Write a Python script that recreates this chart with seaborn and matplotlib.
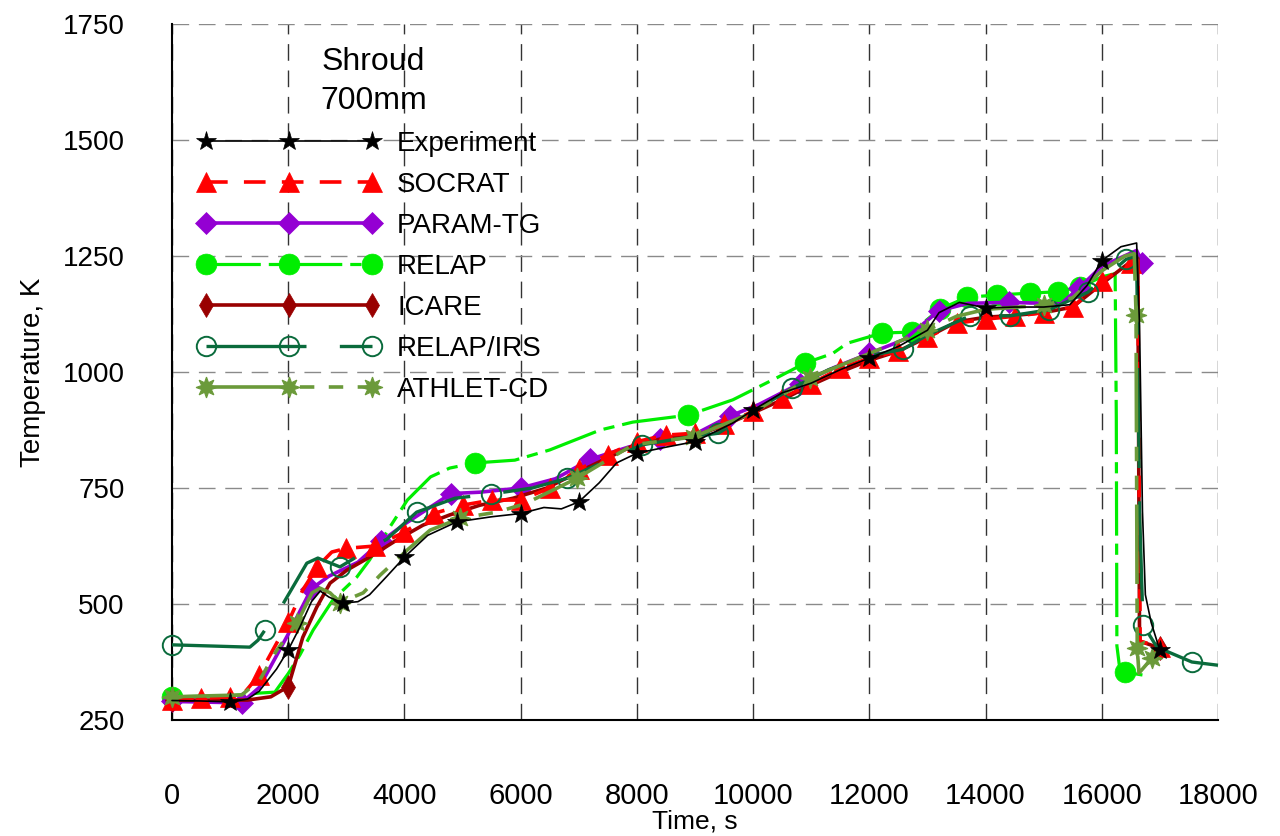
import numpy as np
import pandas as pd
import matplotlib
matplotlib.use("Agg")
import matplotlib.pyplot as plt
import seaborn as sns
from matplotlib.lines import Line2D
from matplotlib.ticker import MultipleLocator

# ---------------- data ----------------
exp_t = [0, 500, 1000, 1300, 1500, 1800, 2000, 2200, 2400, 2550, 2700, 2940, 3200, 3400, 3700,
         4000, 4400, 4900, 5500, 6000, 6400, 6700, 7000, 7350, 7650, 8000, 8500, 9000, 9650,
         10000, 10500, 11000, 11500, 12000, 12500, 13000, 13200, 13550, 14000, 14500, 15000,
         15450, 15750, 16000, 16330, 16600, 16650, 16700, 16750, 16850, 17000]
exp_T = [292, 291, 289, 295, 312, 360, 401, 450, 505, 528, 515, 502, 505, 520, 560,
         601, 648, 677, 688, 695, 708, 705, 720, 761, 804, 825, 838, 850, 890,
         918, 955, 976, 1005, 1030, 1055, 1090, 1128, 1150, 1138, 1140, 1140,
         1145, 1187, 1240, 1270, 1278, 1100, 700, 520, 460, 400]
exp_marks = [1000, 2000, 2940, 4000, 4900, 6000, 7000, 8000, 9000, 10000, 12000, 14000, 16000, 17000]

socrat_t = [0, 500, 1000, 1200, 1500, 2000, 2250, 2500, 2750, 3000, 3500, 4000, 4500, 5000,
            5500, 6000, 6500, 7000, 7500, 8000, 8500, 9000, 9500, 10000, 10500, 11000, 11500,
            12000, 12500, 13000, 13500, 14000, 14500, 15000, 15500, 16000, 16500, 16620,
            16660, 17000]
socrat_T = [293, 297, 300, 302, 347, 461, 530, 580, 612, 620, 625, 655, 695, 713,
            724, 724, 750, 790, 822, 850, 864, 868, 888, 915, 944, 975, 1008,
            1030, 1045, 1075, 1105, 1114, 1120, 1128, 1140, 1196, 1235, 1240,
            420, 407]
socrat_marks = [0, 500, 1000, 1500, 2000, 2500, 3000, 3500, 4000, 4500, 5000, 5500, 6000, 6500,
                7000, 7500, 8000, 8500, 9000, 9500, 10000, 10500, 11000, 11500, 12000, 12500,
                13000, 13500, 14000, 14500, 15000, 15500, 16000, 16500, 17000]

param_t = [0, 1200, 1500, 2000, 2400, 2700, 3200, 3600, 4000, 4400, 4800, 5300, 6000, 6600,
           7200, 7850, 8400, 9000, 9600, 10100, 10800, 11400, 12000, 12600, 13200, 13700,
           14400, 15300, 15600, 16000, 16600, 16700]
param_T = [290, 287, 320, 435, 533, 560, 590, 635, 672, 705, 738, 741, 750, 770,
           812, 838, 856, 866, 905, 930, 975, 1010, 1040, 1070, 1132, 1148,
           1150, 1147, 1180, 1228, 1262, 1235]
param_marks = [0, 1200, 2400, 3600, 4800, 6000, 7200, 8400, 9600, 10800, 12000, 13200,
               14400, 15600, 16700]

relap_t = [0, 1000, 1500, 1770, 2000, 2200, 2430, 2770, 3180, 3400, 3750, 4050, 4450, 4780,
           5215, 5900, 6500, 7370, 7930, 8880, 9650, 10400, 10890, 11370, 11620, 12220,
           12730, 13220, 13680, 14200, 14770, 15240, 15630, 16000, 16230, 16250, 16260,
           16300, 16400, 16700]
relap_T = [300, 302, 308, 310, 350, 390, 444, 509, 558, 595, 666, 724, 774, 793,
           804, 810, 832, 875, 892, 907, 940, 987, 1019, 1040, 1062, 1084,
           1086, 1136, 1161, 1166, 1170, 1173, 1183, 1205, 1212, 900, 410,
           370, 353, 347]
relap_marks = [0, 5215, 8880, 10890, 12220, 12730, 13220, 13680, 14200, 14770, 15240, 15630, 16400]

icare_t = [0, 1300, 1700, 2000, 2250, 2490, 2720, 3010, 3400, 3870, 4320, 4780, 5300, 5870,
           6450, 7000, 7500, 8000, 8500, 9000, 9500, 10000, 10500, 11000, 11500, 12000,
           12500, 13000, 13500, 14000, 14500, 15000, 15500, 16000, 16500, 16620, 16650, 17000]
icare_T = [293, 293, 300, 322, 428, 493, 545, 573, 601, 638, 670, 692, 713, 728,
           750, 785, 815, 845, 858, 862, 885, 912, 940, 972, 1000, 1025,
           1045, 1075, 1108, 1118, 1122, 1128, 1140, 1190, 1238, 1245, 420, 405]
icare_marks = [0, 2000, 17000]

irs_t = [0, 1340, 1480, 1600, 1830, 2320, 2510, 2890, 3370, 3700, 4210, 4870, 5490, 6200,
         6800, 7500, 8090, 8800, 9400, 10000, 10670, 11300, 12000, 12580, 12990, 13730,
         14420, 15090, 15760, 16420, 16600, 16650, 16710, 16950, 17550, 18000]
irs_T = [412, 407, 422, 444, 483, 588, 599, 580, 616, 640, 698, 728, 737, 750,
         771, 810, 843, 858, 868, 915, 965, 1005, 1035, 1049, 1079, 1121,
         1121, 1134, 1172, 1243, 1250, 700, 455, 407, 375, 368]
irs_marks = [0, 1600, 2890, 4210, 5490, 6800, 8090, 9400, 10670, 12580, 13730, 14420,
             15090, 15760, 16420, 16710, 17550]

athlet_t = [0, 1200, 1510, 1800, 2150, 2410, 2550, 2720, 2890, 3290, 3580, 4045, 4440, 4960,
            5590, 6075, 6970, 7930, 8970, 10000, 10980, 12000, 12990, 13500, 14000, 15010,
            15500, 16000, 16400, 16560, 16590, 16610, 16640, 16860, 17000]
athlet_T = [300, 304, 336, 400, 459, 524, 534, 524, 503, 524, 562, 616, 659, 685,
            698, 716, 771, 843, 860, 913, 987, 1040, 1090, 1120, 1135, 1144,
            1160, 1218, 1250, 1255, 1123, 405, 351, 383, 405]
athlet_marks = [0, 2150, 2890, 4960, 6970, 8970, 10980, 12990, 15010, 16590, 16610, 16860]

labels = ["Experiment", "SOCRAT", "PARAM-TG", "RELAP", "ICARE", "RELAP/IRS", "ATHLET-CD"]

# ---------------- styles ----------------
styles = {
    "Experiment": dict(t=exp_t, T=exp_T, m=exp_marks, color="black", lw=1.2, ls="-",
                       marker="*", ms=15, mfc="black", mec="black", mew=0.5, z=9),
    "SOCRAT": dict(t=socrat_t, T=socrat_T, m=socrat_marks, color="#ff0000", lw=2.6, ls=(0, (6, 4.5)),
                   marker="^", ms=14, mfc="#ff0000", mec="#ff0000", mew=0.5, z=5),
    "PARAM-TG": dict(t=param_t, T=param_T, m=param_marks, color="#9400d3", lw=2.6, ls="-",
                     marker="D", ms=11, mfc="#9400d3", mec="#9400d3", mew=0.5, z=4),
    "RELAP": dict(t=relap_t, T=relap_T, m=relap_marks, color="#00ee00", lw=2.3, ls=(0, (17, 2.5, 3.5, 2.5)),
                  marker="o", ms=15, mfc="#00ee00", mec="#00ee00", mew=0.5, z=3),
    "ICARE": dict(t=icare_t, T=icare_T, m=icare_marks, color="#990000", lw=2.6, ls="-",
                  marker="d", ms=12, mfc="#990000", mec="#990000", mew=0.5, z=4.5),
    "RELAP/IRS": dict(t=irs_t, T=irs_T, m=irs_marks, color="#0a6b3c", lw=2.4, ls=(0, (30, 10)),
                      marker="o", ms=14, mfc="none", mec="#0a6b3c", mew=1.4, z=6),
    "ATHLET-CD": dict(t=athlet_t, T=athlet_T, m=athlet_marks, color="#6b9a3a", lw=2.6,
                      ls=(0, (22, 4, 4, 4, 4, 4)),
                      marker=(8, 1, 0), ms=15, mfc="#6b9a3a", mec="#6b9a3a", mew=0.8, z=7),
}

sns.set_theme(style="white")
plt.rcParams['font.family'] = ['Liberation Sans', 'DejaVu Sans']
plt.rcParams['text.color'] = 'black'
plt.rcParams['axes.labelcolor'] = 'black'
plt.rcParams['xtick.color'] = 'black'
plt.rcParams['ytick.color'] = 'black'

fig = plt.figure(figsize=(12.8, 8.36), dpi=100)
ax = fig.add_axes([172 / 1280, 1 - 720 / 836, (1218 - 172) / 1280, (720 - 24) / 836])

handles = []
for name in labels:
    s = styles[name]
    df = pd.DataFrame({"t": s["t"], "T": s["T"]})
    idx = [i for i, tv in enumerate(s["t"]) if tv in s["m"]]
    sns.lineplot(data=df, x="t", y="T", sort=False, estimator=None, ax=ax,
                 color=s["color"], linewidth=s["lw"], linestyle=s["ls"],
                 marker=s["marker"], markersize=s["ms"], markevery=idx,
                 markerfacecolor=s["mfc"], markeredgecolor=s["mec"], markeredgewidth=s["mew"],
                 zorder=s["z"], clip_on=False, legend=False)
    handles.append(Line2D([], [], color=s["color"], linewidth=s["lw"], linestyle=s["ls"],
                          marker=s["marker"], markersize=s["ms"], markerfacecolor=s["mfc"],
                          markeredgecolor=s["mec"], markeredgewidth=s["mew"]))

ax.set_xlim(0, 18000)
ax.set_ylim(250, 1750)
ax.xaxis.set_major_locator(MultipleLocator(2000))
ax.xaxis.set_minor_locator(MultipleLocator(500))
ax.yaxis.set_major_locator(MultipleLocator(250))
ax.yaxis.set_minor_locator(MultipleLocator(50))

ax.set_axisbelow(True)
ax.xaxis.grid(True, which="major", color="#333333", linestyle=(0, (12, 7)), linewidth=1.0)
ax.yaxis.grid(True, which="major", color="#8a8a8a", linestyle=(0, (12, 7)), linewidth=1.0)

for sp in ["top", "right"]:
    ax.spines[sp].set_visible(False)
for sp in ["left", "bottom"]:
    ax.spines[sp].set_color("black")
    ax.spines[sp].set_linewidth(1.5)

ax.tick_params(axis="both", which="major", direction="out", length=26, width=1.4,
               color="black", labelcolor="black")
ax.tick_params(axis="both", which="minor", direction="out", length=13, width=1.4, color="black")
ax.tick_params(axis="x", which="major", pad=19, labelsize=21)
ax.tick_params(axis="y", which="major", pad=8, labelsize=20)

ax.set_xlabel("Time, s", fontsize=19, labelpad=-1, color="black")
ax.set_ylabel("Temperature, K", fontsize=20, labelpad=12, color="black")

leg = ax.legend(handles, labels, title="Shroud\n700mm", loc="upper left",
                bbox_to_anchor=(198 / 1280, 1 - 47 / 836), bbox_transform=fig.transFigure,
                frameon=False, fontsize=20, title_fontsize=23, numpoints=3,
                handlelength=6.57, handletextpad=0.6, labelspacing=0.54,
                borderpad=0, borderaxespad=0, alignment="center", labelcolor="black")
leg.get_title().set_linespacing(1.38)
leg.get_title().set_multialignment("center")
leg.get_title().set_color("black")
leg.set_zorder(20)

fig.savefig("out.png", dpi=100, facecolor="white")
